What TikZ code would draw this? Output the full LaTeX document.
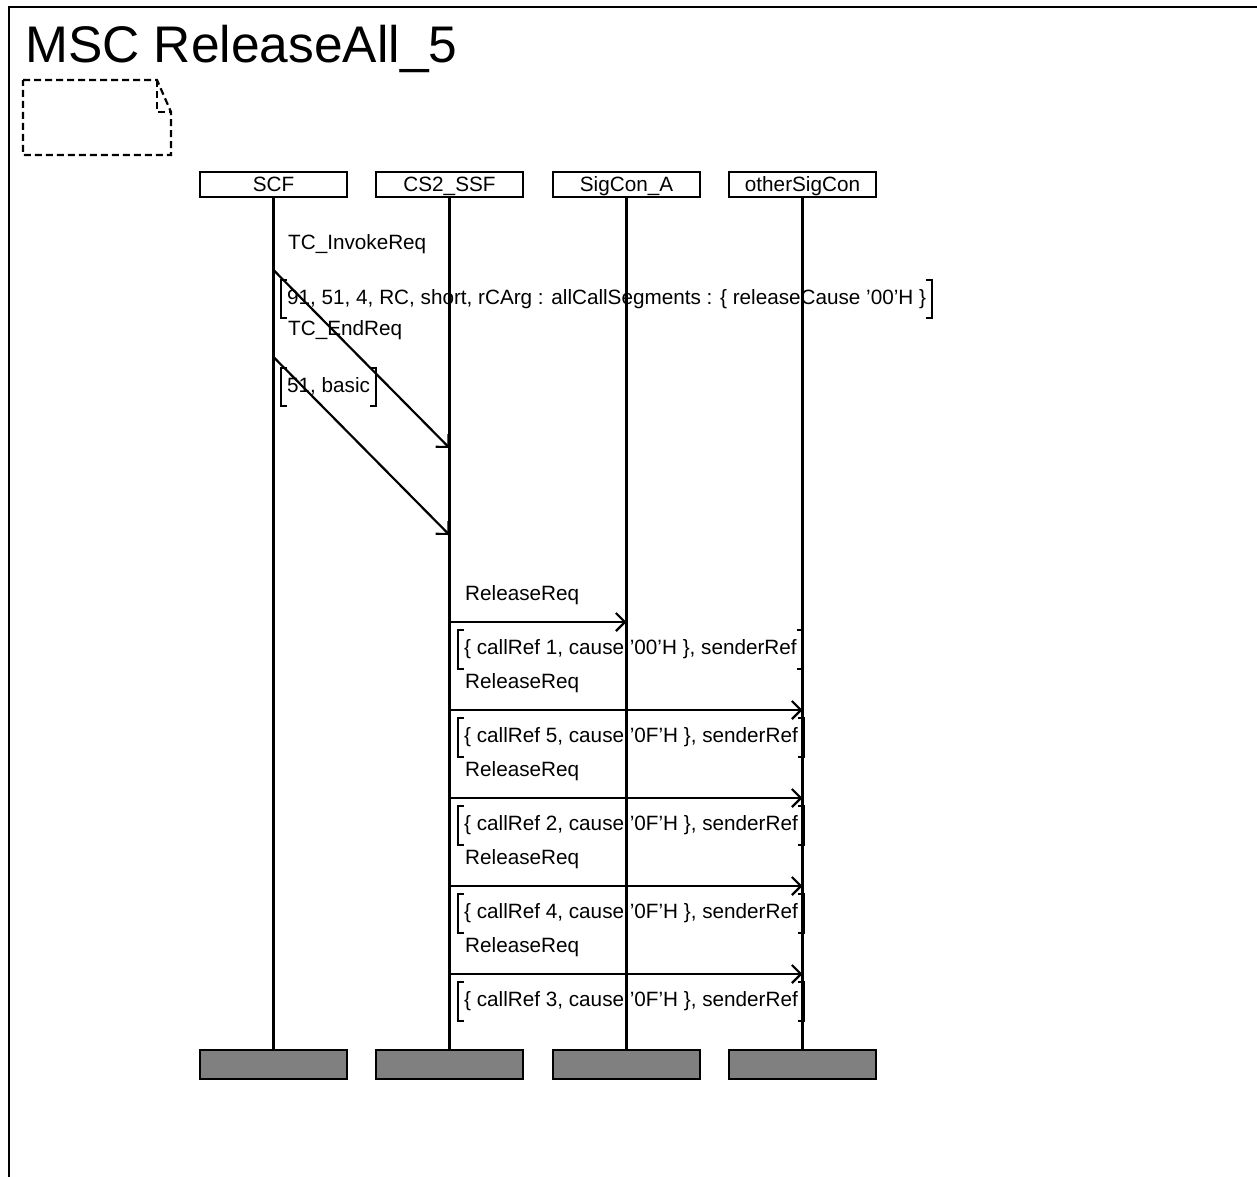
\documentclass[tikz,border=0pt]{standalone}
\usepackage{fontspec}
\setmainfont{Liberation Sans}
\usetikzlibrary{arrows.meta}
\definecolor{endgray}{RGB}{128,128,128}
\begin{document}
\begin{tikzpicture}[x=1pt,y=-1pt,
  every node/.style={font=\fontsize{20.7}{24}\selectfont, inner sep=0pt},
  inst/.style={draw, line width=2.2pt, minimum width=147pt, minimum height=25pt, text height=16pt, text depth=3pt},
  instend/.style={draw, line width=2.2pt, fill=endgray, minimum width=147pt, minimum height=29pt},
  life/.style={line width=2.2pt},
  msg/.style={line width=2.2pt, -{Straight Barb[length=9pt,width=18pt,line width=2.2pt]}},
  lbl/.style={anchor=west, text height=14.5pt, text depth=4pt},
  param/.style={anchor=west, inner xsep=6pt, minimum height=38pt, text height=14.5pt, text depth=4pt},
  brk/.style={line width=2.2pt},
]
\useasboundingbox (0,0) rectangle (1257,1176);
\clip (0,0) rectangle (1257,1176);
\draw[line width=2.8pt] (9,7) rectangle (1275,1195);

\node[anchor=base west, font=\fontsize{51.5}{60}\selectfont] (title) at (25,62) {MSC ReleaseAll\_5};

% comment symbol
\draw[line width=2.2pt, dash pattern=on 7pt off 4pt]
  (23,80) -- (157,80) -- (171,112) -- (171,155) -- (23,155) -- cycle;
\draw[line width=2.2pt, dash pattern=on 7pt off 4pt] (157,80) -- (157,112) -- (171,112);

% instances
\node[inst] (scf) at (273.5,184.5) {SCF};
\node[inst] (ssf) at (449.5,184.5) {CS2\_SSF};
\node[inst] (sig) at (626.5,184.5) {SigCon\_A};
\node[inst] (oth) at (802.5,184.5) {otherSigCon};
\node[instend] (scfE) at (273.5,1064.5) {};
\node[instend] (ssfE) at (449.5,1064.5) {};
\node[instend] (sigE) at (626.5,1064.5) {};
\node[instend] (othE) at (802.5,1064.5) {};
\draw[life] (scf.south) -- (scfE.north);
\draw[life] (ssf.south) -- (ssfE.north);
\draw[life] (sig.south) -- (sigE.north);
\draw[life] (oth.south) -- (othE.north);

% TC_InvokeReq
\coordinate (m1s) at (273.5,270);
\coordinate (m1e) at (449.5,448);
\node[lbl] (l1) at (288,244) {TC\_InvokeReq};
\node[param] (p1) at (281,299) {91, 51, 4, RC, short, rCArg : allCallSegments : \{ releaseCause '00'H \}};
\draw[msg] (m1s) -- (m1e);
\draw[brk] ([xshift=6pt]p1.north west) -- (p1.north west) -- (p1.south west) -- ([xshift=6pt]p1.south west);
\draw[brk] ([xshift=-6pt]p1.north east) -- (p1.north east) -- (p1.south east) -- ([xshift=-6pt]p1.south east);

% TC_EndReq
\coordinate (m2s) at (273.5,357);
\coordinate (m2e) at (449.5,535);
\node[lbl] (l2) at (288,330) {TC\_EndReq};
\node[param] (p2) at (281,387) {51, basic};
\draw[msg] (m2s) -- (m2e);
\draw[brk] ([xshift=6pt]p2.north west) -- (p2.north west) -- (p2.south west) -- ([xshift=6pt]p2.south west);
\draw[brk] ([xshift=-6pt]p2.north east) -- (p2.north east) -- (p2.south east) -- ([xshift=-6pt]p2.south east);

% ReleaseReq messages
\foreach \i/\n/\c/\tx in {0/1/00/626.5, 1/5/0F/802.5, 2/2/0F/802.5, 3/4/0F/802.5, 4/3/0F/802.5}{
  \pgfmathsetmacro{\yl}{622+88*\i}
  \coordinate (rs\i) at (449.5,\yl);
  \coordinate (re\i) at (\tx,\yl);
  \node[lbl] (rl\i) at (465,\yl-27) {ReleaseReq};
  \node[param] (rp\i) at (458,\yl+27.5) {\{ callRef \n, cause '\c'H \}, senderRef};
  \draw[msg] (rs\i) -- (re\i);
  \draw[brk] ([xshift=6pt]rp\i.north west) -- (rp\i.north west) -- (rp\i.south west) -- ([xshift=6pt]rp\i.south west);
  \draw[brk] ([xshift=-6pt]rp\i.north east) -- (rp\i.north east) -- (rp\i.south east) -- ([xshift=-6pt]rp\i.south east);
}
\end{tikzpicture}
\end{document}
